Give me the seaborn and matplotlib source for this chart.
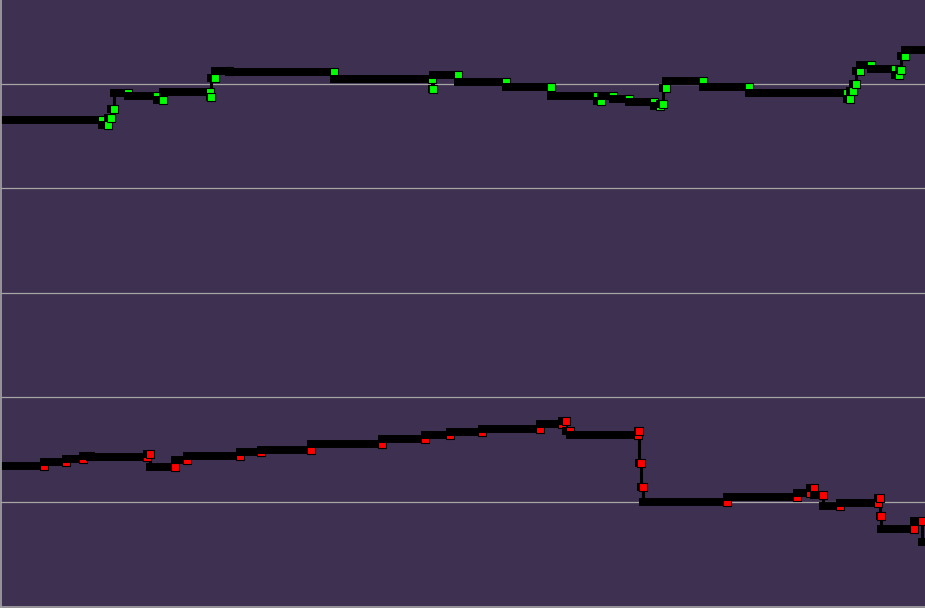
import matplotlib
matplotlib.use("Agg")
import matplotlib.pyplot as plt
import seaborn as sns
import pandas as pd

# ---- data: price level changes (time, new level) ----
start_time = -10
ask_time = [102, 108, 111, 114, 128, 157, 163, 210, 211, 215, 229, 334, 432, 433,
            458, 506, 551, 597, 601, 613, 629, 654, 660, 663, 666, 703, 749, 847,
            850, 853, 856, 860, 871, 895, 899, 901, 905, 960]
ask_price = [4.65, 4.60, 4.67, 4.76, 4.91, 4.88, 4.84, 4.92, 4.87, 5.05, 5.12, 5.11,
             5.04, 4.95, 5.08, 5.02, 4.97, 4.88, 4.83, 4.88, 4.85, 4.82, 4.79, 4.81,
             4.96, 5.03, 4.97, 4.91, 4.85, 4.93, 5.00, 5.12, 5.18, 5.14, 5.08, 5.13,
             5.26, 5.32]

bid_time = [44, 66, 83, 90, 147, 150, 175, 187, 240, 261, 311, 382, 425, 450, 482,
            540, 562, 566, 570, 638, 639, 641, 643, 727, 797, 810, 814, 823, 840,
            878, 880, 881, 914, 922, 960]
bid_price = [1.34, 1.38, 1.41, 1.44, 1.43, 1.46, 1.33, 1.40, 1.44, 1.48, 1.50, 1.55,
             1.60, 1.64, 1.67, 1.70, 1.75, 1.77, 1.68, 1.64, 1.68, 1.37, 1.14, 1.00,
             1.05, 1.09, 1.13, 1.07, 0.96, 0.99, 1.04, 0.87, 0.74, 0.82, 0.62]

grid_ticks = [0, 1, 2, 3, 4, 5]

BG = "#3e3050"
sns.set_theme(style="darkgrid", rc={
    "axes.facecolor": BG,
    "figure.facecolor": BG,
    "grid.color": "#a6a6a6",
    "grid.linewidth": 0.9,
    "axes.edgecolor": "#a6a6a6",
})

fig = plt.figure(figsize=(9.25, 6.08), dpi=100)
ax = fig.add_axes([1.2 / 925, 1.5 / 608, 1 - 1.2 / 925, 1 - 1.5 / 608])


def segments(times, prices):
    rows = []
    prev = start_time
    for i, (t, p) in enumerate(zip(times, prices)):
        rows.append({"seg": i, "t": prev, "p": p})
        rows.append({"seg": i, "t": t, "p": p})
        prev = t
    return pd.DataFrame(rows)


def draw_series(times, prices, face):
    # thin connecting step line
    steps = pd.DataFrame({"t": [start_time] + times, "p": [prices[0]] + prices})
    sns.lineplot(data=steps, x="t", y="p", ax=ax, color="black", lw=2.2,
                 drawstyle="steps-pre", sort=False, estimator=None, legend=False)
    # thick level bars, each ending with a marker
    seg = segments(times, prices)
    sns.lineplot(data=seg, x="t", y="p", units="seg", estimator=None, ax=ax,
                 color="black", lw=5.7, solid_capstyle="projecting",
                 marker="s", markevery=[1], ms=5.6, mfc=face,
                 mec="black", mew=0.8, legend=False)


draw_series(ask_time, ask_price, "#00ff00")
draw_series(bid_time, bid_price, "#ff0000")

ax.set_xlim(1, 925)
ax.set_ylim(0, 5.80)
ax.set_yticks(grid_ticks)
ax.set_xticks([])
ax.grid(axis="x", visible=False)
ax.grid(axis="y", visible=True)
ax.tick_params(labelleft=False, labelbottom=False, length=0)
ax.set_xlabel("")
ax.set_ylabel("")
for side in ["top", "right"]:
    ax.spines[side].set_visible(False)
for side in ["left", "bottom"]:
    ax.spines[side].set_visible(True)
    ax.spines[side].set_linewidth(1.2)
    ax.spines[side].set_color("#a6a6a6")

fig.savefig("out.png", dpi=100, facecolor=BG)
